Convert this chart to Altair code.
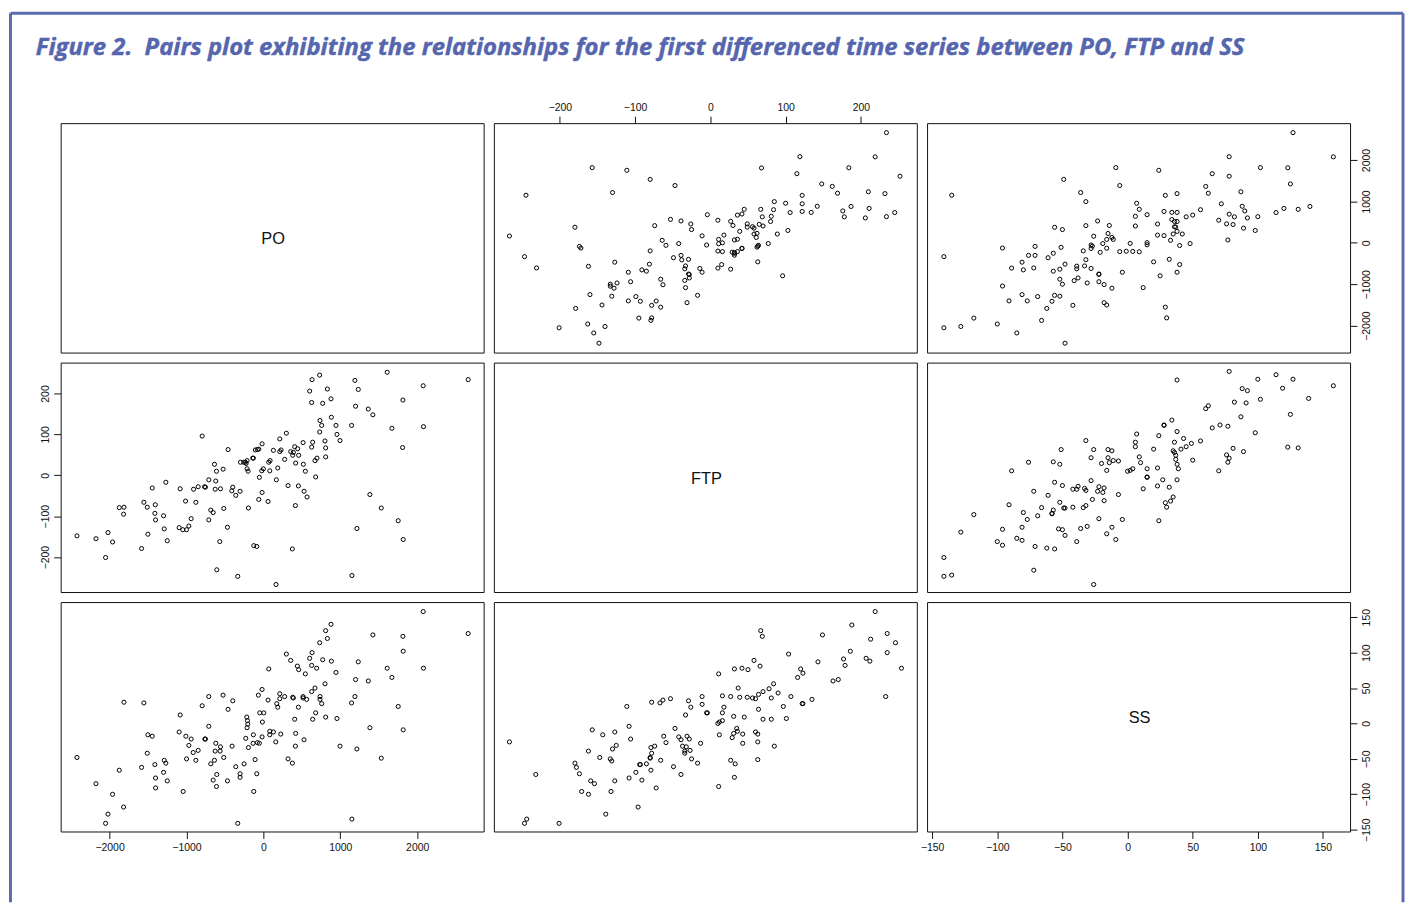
import altair as alt
import pandas as pd

TITLE = "Figure 2.\u00a0 Pairs plot exhibiting the relationships for the first differenced time series between PO, FTP and SS"

PO_TICKS = [-2000, -1000, 0, 1000, 2000]
FTP_TICKS = [-200, -100, 0, 100, 200]
SS_TICKS = [-150, -100, -50, 0, 50, 100, 150]

PO_X_DOMAIN = [-2636, 2864]
FTP_X_DOMAIN = [-287.7, 274.4]
SS_X_DOMAIN = [-153.9, 170.8]
PO_Y_DOMAIN = [-2651, 2892]
FTP_Y_DOMAIN = [-285.4, 275.6]
SS_Y_DOMAIN = [-152.5, 171.4]

PO_FTP = [
    (-796,96),(-1268,-17),(-1445,-31),(-1082,-33),(-908,-34),(-848,-28),(-765,-28),(-1012,-63),
    (-878,-66),(-1554,-66),(-1510,-78),(-1406,-72),(-1874,-79),(-1813,-78),(-1818,-95),(-1411,-93),
    (-1298,-99),(-1402,-109),(-939,-106),(-969,-124),(-1095,-128),(-1047,-133),(-999,-133),(-1289,-131),
    (-1502,-144),(-1250,-160),(-1584,-179),(-2424,-148),(-2177,-155),(-2021,-140),(-1961,-163),(-2052,-201),
    (732,245),(633,234),(832,211),(602,206),(879,187),(628,178),(771,176),(884,142),(736,134),(758,122),
    (944,122),(732,106),(957,100),(996,85),(299,103),(213,89),(-17,77),(516,80),(641,81),(801,84),(628,69),
    (810,67),(407,70),(446,65),(-459,63),(-104,62),(-78,63),(-60,64),(130,61),(213,58),(230,62),(355,58),
    (390,56),(381,49),(459,49),(810,45),(697,42),(671,36),(277,39),(-130,42),(-138,42),(87,36),(70,32),
    (420,30),(520,27),(546,10),(187,18),(83,11),(0,16),(-21,11),(-212,36),(-255,32),(-298,32),(-225,29),
    (-233,32),(-212,16),(-199,10),(-524,15),(-636,27),(-610,10),(680,-4),(-52,-5),(169,-11),(-710,-11),
    (-619,-14),(321,-25),(455,-26),(-398,-29),(-753,-29),(-627,-34),(-558,-33),(-411,-38),(-303,-39),
    (-359,-49),(-17,-42),(529,-39),(568,-53),(-60,-59),(61,-64),(416,-74),(-194,-80),(-515,-81),(-684,-85),
    (-653,-91),(-710,-109),(-467,-127),(-567,-162),(-125,-172),(-86,-174),(377,-180),(-606,-231),(-333,-247),
    (165,-267),(1610,252),(2663,234),(1190,232),(2078,219),(1234,210),(1814,184),(1199,169),(1364,162),
    (1424,148),(1147,122),(2082,119),(1671,115),(1810,68),(1385,-47),(1533,-80),(1753,-111),(1216,-130),
    (1818,-157),(1151,-245),
]

PO_SS = [
    (-1813,30),(-1554,29),(-1082,12),(-796,25),(-1502,-16),(-1445,-18),(-1095,-12),(-1008,-18),(-939,-22),
    (-761,-22),(-969,-31),(-848,-38),(-913,-41),(-1510,-42),(-999,-50),(-878,-52),(-2424,-48),(-1289,-52),
    (-1268,-56),(-1411,-58),(-1584,-62),(-1874,-66),(-1298,-69),(-1402,-77),(-1250,-81),(-2177,-85),
    (-1402,-91),(-1043,-96),(-1961,-100),(-1818,-118),(-2021,-128),(-2052,-141),
    (879,140),(810,131),(832,120),(732,114),(633,100),(602,92),(771,90),(884,88),(299,98),(355,89),(442,81),
    (459,76),(546,70),(628,82),(693,78),(944,72),(70,77),(801,56),(671,50),(628,45),(-17,48),(-65,40),
    (213,42),(213,35),(277,38),(61,33),(174,28),(187,23),(381,37),(390,36),(516,38),(516,36),(563,34),
    (736,38),(736,34),(758,28),(455,23),(680,15),(810,9),(641,6),(407,6),(957,7),(-710,38),(-524,40),
    (-398,32),(-459,20),(-47,15),(5,15),(-216,9),(-207,4),(-203,-1),(-212,-6),(-13,2),(-710,-4),(-753,-22),
    (-229,-21),(-130,-16),(83,-11),(130,-12),(83,-16),(226,-15),(420,-14),(-17,-19),(161,-26),(416,-32),
    (529,-23),(-78,-27),(-52,-28),(-134,-28),(-194,-34),(-407,-32),(-619,-28),(-558,-33),(-627,-39),
    (-563,-39),(-515,-48),(-636,-52),(-684,-57),(-251,-57),(-359,-61),(-108,-51),(321,-50),(377,-56),
    (-86,-71),(-303,-71),(-303,-76),(-606,-72),(-653,-80),(-467,-81),(-610,-89),(-125,-96),(-333,-141),
    (2078,158),(1424,125),(2663,127),(1814,123),(1818,102),(1234,87),(1610,78),(2082,78),(1671,65),
    (1199,62),(1364,60),(1190,38),(1147,29),(1753,24),(1385,-6),(1818,-9),(996,-32),(1216,-36),(1533,-49),
    (1151,-135),
]

FTP_SS = [
    (-111,24),(-108,-4),(-157,-9),(-127,-12),(-143,-16),(-106,-22),(-125,-31),(-130,-36),(-162,-39),(-267,-26),
    (-147,-48),(-133,-50),(-131,-53),(-180,-56),(-178,-62),(-94,-58),(-232,-72),(-174,-71),(-99,-69),(-108,-77),
    (-159,-81),(-154,-85),(-127,-81),(-171,-96),(-162,-100),(-132,-96),(-96,-118),(-139,-128),(-244,-135),
    (-247,-141),(-201,-141),
    (67,131),(69,123),(58,89),(66,81),(42,78),(50,76),(32,77),(11,70),(84,56),(37,50),(78,49),(70,45),(64,41),
    (16,39),(27,38),(39,37),(49,37),(56,36),(60,35),(81,36),(-11,38),(-53,35),(-63,33),(-67,29),(-78,30),
    (-29,32),(-11,27),(-26,23),(18,23),(64,20),(-5,15),(-4,15),(16,15),(-33,12),(31,10),(45,9),(70,6),(81,6),
    (16,4),(12,2),(10,0),(-47,-7),(35,-7),(36,-11),(31,-14),(29,-20),(43,-15),(12,-16),(60,-12),(63,-15),
    (63,-26),(43,-28),(-62,-18),(-42,-19),(-39,-23),(-31,-18),(-28,-22),(-59,-27),(-13,-28),(-37,-32),(-32,-33),
    (-79,-34),(-74,-32),(85,-32),(-27,-38),(-34,-39),(-34,-42),(-78,-42),(-80,-48),(-80,-49),(-25,-50),(-66,-52),
    (-17,-56),(27,-52),(33,-57),(63,-51),(-93,-58),(-85,-57),(-49,-61),(-79,-66),(-39,-72),(32,-76),(-91,-80),
    (-72,-91),(11,-89),
    (219,158),(188,139),(149,125),(235,127),(213,119),(246,114),(104,98),(186,102),(235,100),(143,87),(177,91),
    (207,92),(212,88),(179,82),(120,77),(254,78),(123,71),(116,65),(170,62),(163,60),(90,43),(107,38),(233,38),
    (135,34),(122,28),(123,28),(97,24),(101,7),
]

W, H = 425.7, 230.9
FONT = "Liberation Sans"


def axis(orient, ticks):
    padding = {"left": 3, "right": 5, "top": 4, "bottom": 4}[orient]
    opts = dict(orient=orient, values=ticks, format="d", grid=False, domain=False, title=None,
                tickSize=7, tickColor="#111111", tickWidth=1, labelFont=FONT, labelFontSize=10.5,
                labelColor="#111111", labelPadding=padding, labelOverlap=False, labelFlush=False)
    if orient == "left":
        opts.update(labelAngle=270, labelAlign="center", labelBaseline="bottom")
    if orient == "right":
        opts.update(labelAngle=270, labelAlign="center", labelBaseline="top")
    return alt.Axis(**opts)


def scatter(pairs, flip, xdom, ydom, xaxis=None, yaxis=None):
    rows = [(b, a) if flip else (a, b) for a, b in pairs]
    df = pd.DataFrame(rows, columns=["u", "v"])
    return alt.Chart(df).mark_point(shape="circle", filled=False, size=17, stroke="black", strokeWidth=1, opacity=1).encode(
        x=alt.X("u:Q", scale=alt.Scale(domain=xdom, nice=False, zero=False), axis=xaxis),
        y=alt.Y("v:Q", scale=alt.Scale(domain=ydom, nice=False, zero=False), axis=yaxis),
    ).properties(width=W, height=H)


def diag(label, xaxis=None, yaxis=None):
    df = pd.DataFrame({
        "u": [sum(SS_X_DOMAIN) / 2], "v": [sum(SS_Y_DOMAIN) / 2], "t": [label]})
    return alt.Chart(df).mark_text(font=FONT, fontSize=16.5, color="#111111", dx=1, dy=1.5).encode(
        x=alt.X("u:Q", scale=alt.Scale(domain=SS_X_DOMAIN, nice=False, zero=False), axis=xaxis),
        y=alt.Y("v:Q", scale=alt.Scale(domain=SS_Y_DOMAIN, nice=False, zero=False), axis=yaxis),
        text="t:N",
    ).properties(width=W, height=H)


FRAME = "#5a6bb0"
FRAME_L, FRAME_R, FRAME_T, FRAME_B = -50.5, 1351, -110.5, 784
title = alt.Chart().mark_text(
    text=TITLE, font="Open Sans", fontSize=24, fontStyle="italic", fontWeight="bold",
    color="#5565ae", stroke="#5565ae", strokeWidth=0.45, align="left", baseline="alphabetic",
).encode(x=alt.value(-25), y=alt.value(-69))
left = alt.Chart().mark_rule(color=FRAME, strokeWidth=3).encode(
    x=alt.value(FRAME_L), y=alt.value(FRAME_T), y2=alt.value(FRAME_B))
right = alt.Chart().mark_rule(color=FRAME, strokeWidth=3).encode(
    x=alt.value(FRAME_R), y=alt.value(FRAME_T), y2=alt.value(FRAME_B))
top = alt.Chart().mark_rule(color=FRAME, strokeWidth=3).encode(
    x=alt.value(FRAME_L), x2=alt.value(FRAME_R), y=alt.value(FRAME_T))

p11 = alt.layer(diag("PO"), title, left, right, top)
p12 = scatter(PO_FTP, True, FTP_X_DOMAIN, PO_Y_DOMAIN, xaxis=axis("top", FTP_TICKS))
p13 = scatter(PO_SS, True, SS_X_DOMAIN, PO_Y_DOMAIN, yaxis=axis("right", PO_TICKS))
p21 = scatter(PO_FTP, False, PO_X_DOMAIN, FTP_Y_DOMAIN, yaxis=axis("left", FTP_TICKS))
p22 = diag("FTP")
p23 = scatter(FTP_SS, True, SS_X_DOMAIN, FTP_Y_DOMAIN)
p31 = scatter(PO_SS, False, PO_X_DOMAIN, SS_Y_DOMAIN, xaxis=axis("bottom", PO_TICKS))
p32 = scatter(FTP_SS, False, FTP_X_DOMAIN, SS_Y_DOMAIN)
p33 = diag("SS", xaxis=axis("bottom", SS_TICKS), yaxis=axis("right", SS_TICKS))

chart = alt.concat(p11, p12, p13, p21, p22, p23, p31, p32, p33, columns=3, spacing=10, bounds="flush").properties(
    padding=0, background="white"
).configure_view(stroke="#111111", strokeWidth=1)

chart.save("out.html", embed_options={"renderer": "svg", "actions": False})
